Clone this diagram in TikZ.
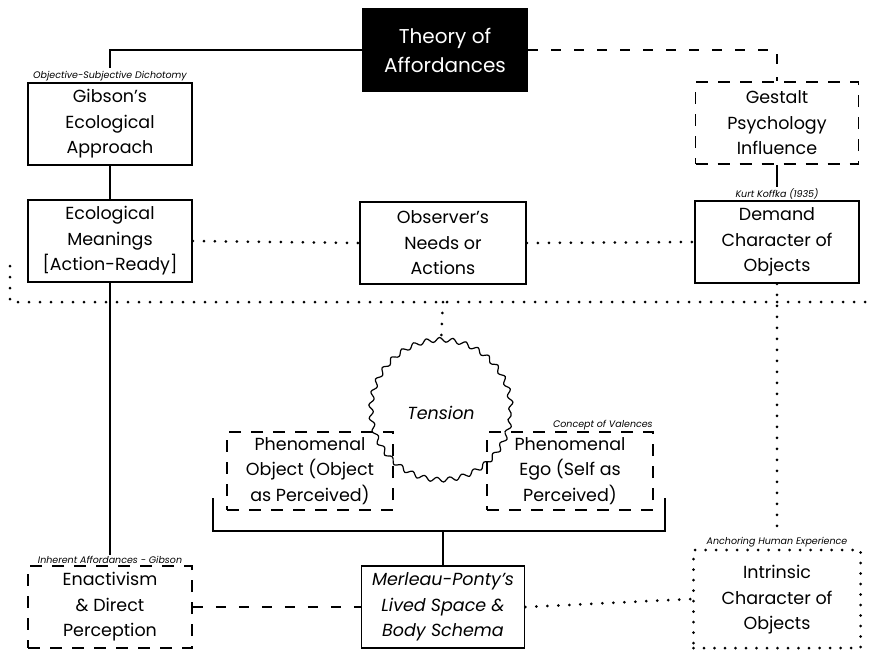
\documentclass[tikz,border=0pt]{standalone}
\usepackage{fontspec}
\setmainfont{Poppins}
\usetikzlibrary{decorations.pathmorphing}
\begin{document}
\begin{tikzpicture}[x=1pt,y=-1pt,
  base/.style={inner sep=0pt, align=center, text=black,
    font=\fontsize{17.5}{25.5}\selectfont, minimum width=164pt, minimum height=82pt},
  solidbox/.style={base, draw=black, line width=1.8pt, fill=white},
  dashbox/.style={base, draw=black, line width=1.8pt, dash pattern=on 12pt off 10pt, fill=white},
  dotbox/.style={base, draw=black, line width=3pt, line cap=round, dash pattern=on 0pt off 10.5pt},
  darkbox/.style={base, fill=black, text=white, minimum width=166pt, minimum height=84pt,
    font=\fontsize{20}{29}\selectfont},
  note/.style={font=\fontsize{9.5}{11}\selectfont\itshape, inner sep=1pt, anchor=south, text=black},
  solidline/.style={line width=1.3pt},
  dashline/.style={line width=1.6pt, dash pattern=on 10pt off 13pt},
  dotline/.style={line width=3pt, line cap=round, dash pattern=on 0pt off 11pt},
  wavy/.style={circle, draw=black, line width=1.2pt, minimum size=140pt, inner sep=0pt,
    decorate, decoration={snake, segment length=13pt, amplitude=2.3pt},
    font=\fontsize{17.5}{25.5}\selectfont\itshape}
]
\useasboundingbox (0,0) rectangle (870,651);

% boxes
\node[darkbox] (th) at (445,50) {Theory of\\Affordances};
\node[solidbox] (gib) at (110,124) {Gibson’s\\Ecological\\Approach};
\node[solidbox] (eco) at (110,241) {Ecological\\Meanings\\{[}Action-Ready{]}};
\node[solidbox, minimum width=166pt] (obs) at (443,243) {Observer’s\\Needs or\\Actions};
\node[solidbox] (dem) at (777,242) {Demand\\Character of\\Objects};
\node[dashbox, minimum width=163pt] (ges) at (777,123) {Gestalt\\Psychology\\Influence};

% labels
\node[note] (gl) at (gib.north) {Objective-Subjective Dichotomy};
\node[note] (kl) at (dem.north) {Kurt Koffka (1935)};

% connectors top
\draw[solidline] (th.west) -| ([yshift=2pt]gl.north);
\draw[dashline] (th.east) -| (ges.north);
\draw[solidline] (gib.south) -- (eco.north);
\draw[solidline] (ges.south) -- (kl.north);
\draw[dotline] (eco.east) -- (obs.west);
\draw[dotline] (obs.east) -- (dem.west);

% big dotted line
\coordinate (l1) at (10,266);
\coordinate (l2) at (10,302);
\coordinate (l3) at (868,302);
\coordinate (mid) at (443,302);
\draw[dotline] (l1) -- (l2) -- (l3);

% tension
\node[wavy] (ten) at (441,413) {Tension};
\draw[dotline] (mid) -- (ten.north);

% bracket
\coordinate (b1) at (213,498);
\coordinate (b2) at (213,531);
\coordinate (b3) at (665,531);
\coordinate (b4) at (665,498);
\coordinate (bm) at (443,531);
\draw[solidline] (b1) -- (b2) -- (b3) -- (b4);

\node[dashbox, minimum width=166pt, minimum height=78pt, fill=none] (pho) at (310,471) {Phenomenal\\Object (Object\\as Perceived)};
\node[dashbox, minimum width=166pt, minimum height=78pt, fill=none] (phe) at (570,471) {Phenomenal\\Ego (Self as\\Perceived)};
\node[note, anchor=south east] (cv) at (phe.north east) {Concept of Valences};

% bottom row
\node[solidbox, minimum width=163pt, font=\fontsize{17.5}{25.5}\selectfont\itshape] (mer) at (443,607) {Merleau-Ponty’s\\Lived Space \&\\Body Schema};
\node[dashbox] (ena) at (110,607) {Enactivism\\\& Direct\\Perception};
\node[dotbox, minimum width=167pt, minimum height=98pt] (int) at (777,599) {\raisebox{-8pt}{\begin{tabular}{@{}c@{}}Intrinsic\\Character of\\Objects\end{tabular}}};
\node[note] (il) at (ena.north) {Inherent Affordances - Gibson};
\node[note] (al) at (int.north) {Anchoring Human Experience};

\draw[solidline] (bm) -- (mer.north);
\draw[solidline] (eco.south) -- (il.north);
\draw[dotline] (dem.south) -- ([yshift=3pt]al.north);
\draw[dashline] (ena.east) -- (mer.west);
\draw[dotline] (mer.east) -- (int.west);
\end{tikzpicture}
\end{document}
